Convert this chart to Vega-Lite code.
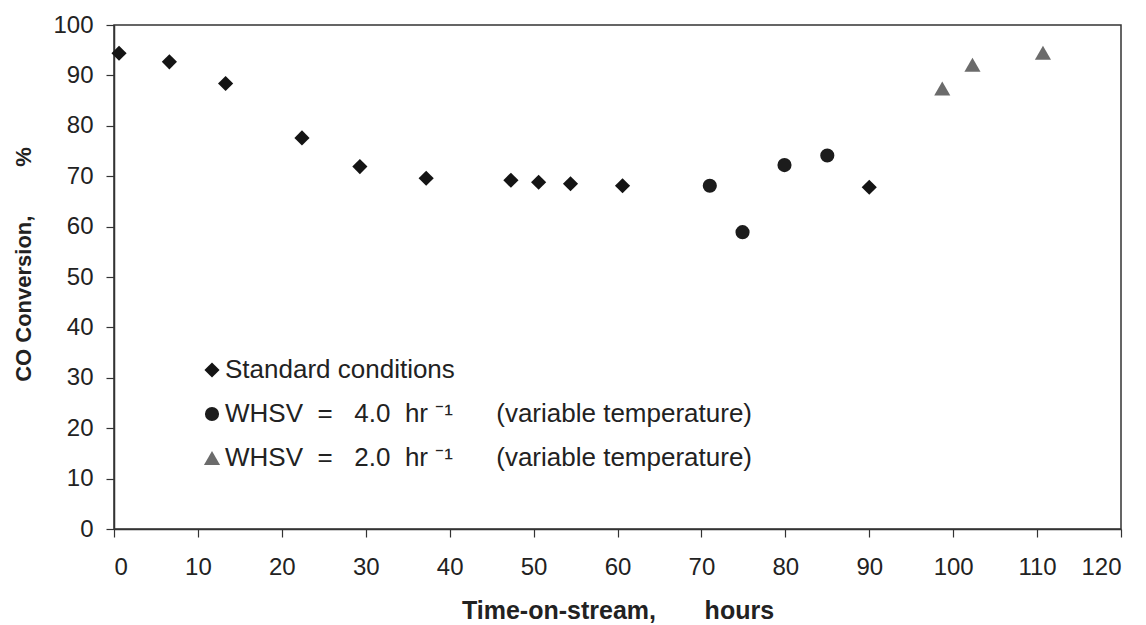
{
  "$schema": "https://vega.github.io/schema/vega-lite/v6.json",
  "width": 1007,
  "height": 504,
  "autosize": {"type": "none"},
  "padding": {"left": 114, "top": 25, "right": 25, "bottom": 96},
  "background": "#ffffff",
  "config": {
    "font": "Liberation Sans",
    "view": {"stroke": "#333333", "strokeWidth": 1.5},
    "axis": {
      "grid": false,
      "domainColor": "#333333",
      "domainWidth": 1.5,
      "tickColor": "#333333",
      "tickWidth": 1.2,
      "tickSize": 8,
      "labelFont": "Liberation Sans",
      "labelFontSize": 24,
      "labelColor": "#222222",
      "titleFont": "Liberation Sans",
      "titleFontWeight": "bold",
      "titleColor": "#222222"
    }
  },
  "data": {
    "values": [
      {"hours": 0.6, "conversion": 94.4, "series": "std"},
      {"hours": 6.6, "conversion": 92.7, "series": "std"},
      {"hours": 13.3, "conversion": 88.4, "series": "std"},
      {"hours": 22.4, "conversion": 77.6, "series": "std"},
      {"hours": 29.3, "conversion": 71.9, "series": "std"},
      {"hours": 37.2, "conversion": 69.6, "series": "std"},
      {"hours": 47.3, "conversion": 69.2, "series": "std"},
      {"hours": 50.6, "conversion": 68.8, "series": "std"},
      {"hours": 54.4, "conversion": 68.5, "series": "std"},
      {"hours": 60.6, "conversion": 68.1, "series": "std"},
      {"hours": 90.0, "conversion": 67.8, "series": "std"},
      {"hours": 71.0, "conversion": 68.1, "series": "w4"},
      {"hours": 74.9, "conversion": 58.9, "series": "w4"},
      {"hours": 79.9, "conversion": 72.2, "series": "w4"},
      {"hours": 85.0, "conversion": 74.1, "series": "w4"},
      {"hours": 98.7, "conversion": 87.4, "series": "w2"},
      {"hours": 102.3, "conversion": 92.1, "series": "w2"},
      {"hours": 110.7, "conversion": 94.5, "series": "w2"}
    ]
  },
  "mark": {"type": "point", "filled": true, "opacity": 1},
  "encoding": {
    "x": {
      "field": "hours",
      "type": "quantitative",
      "scale": {"domain": [0, 120], "nice": false},
      "axis": {
        "values": [0, 10, 20, 30, 40, 50, 60, 70, 80, 90, 100, 110, 120],
        "labelPadding": 18,
        "title": "Time-on-stream,\u00a0\u00a0\u00a0\u00a0\u00a0\u00a0\u00a0hours",
        "titleFontSize": 25,
        "titleY": 89,
        "titleBaseline": "alphabetic"
      }
    },
    "y": {
      "field": "conversion",
      "type": "quantitative",
      "scale": {"domain": [0, 100], "nice": false},
      "axis": {
        "values": [0, 10, 20, 30, 40, 50, 60, 70, 80, 90, 100],
        "labelPadding": 13,
        "title": "CO Conversion,\u00a0\u00a0\u00a0\u00a0\u00a0\u00a0\u00a0\u00a0%",
        "titleFontSize": 22,
        "titleX": -84,
        "titleY": 239,
        "titleBaseline": "alphabetic"
      }
    },
    "size": {
      "field": "series",
      "type": "nominal",
      "scale": {"type": "ordinal", "domain": ["std", "w4", "w2"], "range": [230, 200, 260]},
      "legend": null
    },
    "color": {
      "field": "series",
      "type": "nominal",
      "scale": {"domain": ["std", "w4", "w2"], "range": ["#141414", "#1c1c1c", "#6b6b6b"]},
      "legend": {
        "title": null,
        "orient": "none",
        "legendX": 85,
        "legendY": 332,
        "padding": 0,
        "labelFontSize": 26,
        "labelColor": "#222222",
        "labelFont": "Liberation Sans",
        "labelLimit": 0,
        "labelOffset": 0,
        "symbolSize": 130,
        "symbolStrokeWidth": 0,
        "rowPadding": 18,
        "labelExpr": "datum.label == 'std' ? 'Standard conditions' : datum.label == 'w4' ? 'WHSV\u00a0\u00a0=\u00a0\u00a0\u00a04.0\u00a0\u00a0hr\u00a0\u207b\u00b9\u00a0\u00a0\u00a0\u00a0\u00a0\u00a0(variable temperature)' : 'WHSV\u00a0\u00a0=\u00a0\u00a0\u00a02.0\u00a0\u00a0hr\u00a0\u207b\u00b9\u00a0\u00a0\u00a0\u00a0\u00a0\u00a0(variable temperature)'"
      }
    },
    "shape": {
      "field": "series",
      "type": "nominal",
      "scale": {"domain": ["std", "w4", "w2"], "range": ["diamond", "circle", "triangle-up"]},
      "legend": {
        "title": null,
        "orient": "none",
        "legendX": 85,
        "legendY": 332,
        "padding": 0,
        "labelFontSize": 26,
        "labelColor": "#222222",
        "labelFont": "Liberation Sans",
        "labelLimit": 0,
        "labelOffset": 0,
        "symbolSize": 130,
        "symbolStrokeWidth": 0,
        "rowPadding": 18,
        "labelExpr": "datum.label == 'std' ? 'Standard conditions' : datum.label == 'w4' ? 'WHSV\u00a0\u00a0=\u00a0\u00a0\u00a04.0\u00a0\u00a0hr\u00a0\u207b\u00b9\u00a0\u00a0\u00a0\u00a0\u00a0\u00a0(variable temperature)' : 'WHSV\u00a0\u00a0=\u00a0\u00a0\u00a02.0\u00a0\u00a0hr\u00a0\u207b\u00b9\u00a0\u00a0\u00a0\u00a0\u00a0\u00a0(variable temperature)'"
      }
    }
  }
}
